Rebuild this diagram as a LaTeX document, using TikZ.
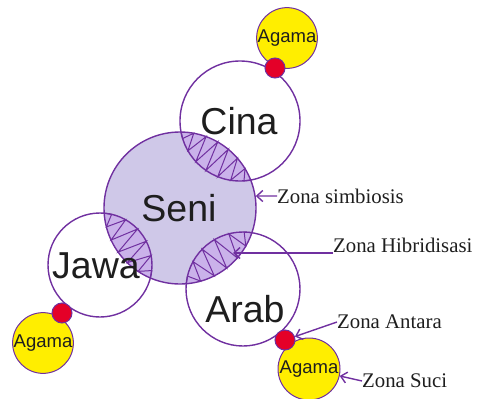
\documentclass[tikz,border=0pt]{standalone}
\usepackage{fontspec}
\setmainfont{Liberation Serif}
\newfontfamily\arialf{Liberation Sans}
\usetikzlibrary{arrows.meta,calc}
\definecolor{pur}{RGB}{112,48,160}
\definecolor{senic}{RGB}{207,200,232}
\definecolor{lensc}{RGB}{202,178,234}
\definecolor{txt}{RGB}{30,30,30}
\definecolor{dotred}{RGB}{228,0,40}
\definecolor{agy}{RGB}{255,238,0}

\tikzset{
 bigc/.style={circle, draw=pur, line width=1.4pt, inner sep=0pt},
 lbl/.style={font=\arialf\fontsize{37.5}{40}\selectfont, text=txt, inner sep=0pt},
 agama/.style={circle, draw=pur, line width=1pt, fill=agy, inner sep=0pt, font=\arialf\fontsize{18.5}{20}\selectfont, text=txt},
 reddot/.style={circle, draw=pur, line width=1pt, fill=dotred, inner sep=0pt, minimum size=20pt},
 zona/.style={font=\fontsize{20.8}{24}\selectfont, text=txt, inner sep=0pt},
 arr/.style={draw=pur, line width=1.4pt, -{Straight Barb[length=6pt,width=11pt]}},
 zigline/.style={draw=pur, line width=1pt, line join=miter},
}

\newcommand\zigzag[7]{%
 \pgfmathsetmacro\zdx{#4-#1}%
 \pgfmathsetmacro\zdy{#5-#2}%
 \pgfmathsetmacro\zd{veclen(\zdx,\zdy)}%
 \pgfmathsetmacro\za{(\zd+(#3*#3-#6*#6)/\zd)/2}%
 \pgfmathsetmacro\zth{atan2(\zdy,\zdx)}%
 \pgfmathsetmacro\zal{acos(\za/#3)}%
 \pgfmathsetmacro\zbe{acos((\zd-\za)/#6)}%
 \begin{scope}
  \clip (#1,#2) circle (#3);
  \fill[lensc] (#4,#5) circle (#6);
 \end{scope}
 \draw[zigline] ($(#1,#2)+({\zth-\zal}:#3)$)
  \foreach \k in {1,...,#7}{
   -- ($(#4,#5)+({\zth+180+\zbe-2*\zbe*(2*\k-1)/(2*#7)}:#6)$)
   -- ($(#1,#2)+({\zth-\zal+2*\zal*(2*\k)/(2*#7)}:#3)$)
  };
}

\begin{document}
\begin{tikzpicture}[x=1pt,y=-1pt]
\useasboundingbox (0,0) rectangle (480,399);
% Seni fill
\fill[senic] (180,208) circle (76);
% lenses
\zigzag{180}{208}{76}{240}{121}{60}{7}
\zigzag{180}{208}{76}{100}{265}{52}{6}
\zigzag{180}{208}{76}{243}{289}{57}{6}
% circles
\node[bigc, minimum size=152pt] (seni) at (180,208) {};
\node[bigc, minimum size=120pt] (cina) at (240,121) {};
\node[bigc, minimum size=104pt] (jawa) at (100,265) {};
\node[bigc, minimum size=114pt] (arab) at (243,289) {};
% labels
\node[lbl] (tseni) at (179,208) {Seni};
\node[lbl] (tcina) at (239,121) {Cina};
\node[lbl] (tjawa) at (96,266) {Jawa};
\node[lbl] (tarab) at (245,309) {Arab};
% agama
\node[agama, minimum size=52pt] (agC) at (287,38) {Agama};
\node[reddot] (dotC) at (275,68) {};
\node[agama, minimum size=50pt] (agJ) at (43,343) {Agama};
\node[reddot] (dotJ) at (62,313) {};
\node[agama, minimum size=62pt] (agA) at (309,369) {Agama};
\node[reddot] (dotA) at (285,340) {};
% zone labels
\node[zona, anchor=west] (simb) at (277,196) {Zona simbiosis};
\node[zona, anchor=west] (hib) at (333,245) {Zona Hibridisasi};
\node[zona, anchor=west] (ant) at (337,322) {Zona Antara};
\node[zona, anchor=west] (suci) at (362,381) {Zona Suci};
\coordinate (hibtip) at (233,253);
\draw[arr] (simb.west) -- (seni.9);
\draw[arr] (hibtip -| hib.west) -- (hibtip);
\draw[arr] (ant.west) -- (dotA);
\draw[arr] (suci.west) -- (agA);
\end{tikzpicture}
\end{document}
